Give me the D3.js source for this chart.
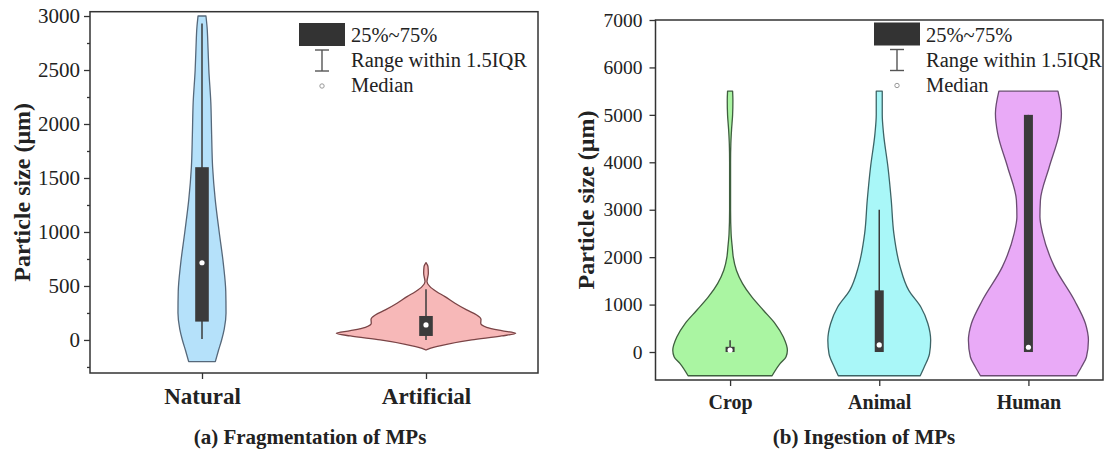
<!DOCTYPE html>
<html>
<head>
<meta charset="utf-8">
<script src="https://cdn.jsdelivr.net/npm/d3@7"></script>
<style>
  html, body { margin: 0; padding: 0; background: #fff; }
  svg { display: block; }
  text { font-family: "Liberation Serif", "Times New Roman", serif; fill: #222; }
</style>
</head>
<body>
<script>
// ---------- Panel (a): fragmentation ----------
const fragGroups = ["Natural", "Artificial"];
const fragTicks = [0, 500, 1000, 1500, 2000, 2500, 3000];
const fragMinorTicks = [-250, 250, 750, 1250, 1750, 2250, 2750];

// Kernel-density outlines: size levels (µm) and relative density at each level
const naturalLevels  = [3000, 2900, 2700, 2500, 2200, 1900, 1600, 1300, 1000, 700, 450, 250, 100, 0, -100, -200];
const naturalDensity = [0.044, 0.056, 0.067, 0.076, 0.098, 0.107, 0.118, 0.147, 0.191, 0.238, 0.264, 0.267, 0.247, 0.218, 0.182, 0.148];

const artificialLevels  = [716, 679, 617, 540, 494, 447, 401, 340, 278, 231, 191, 154, 117, 86, 62, 37, 0, -40, -77, -93];
const artificialDensity = [0, 0.022, 0.026, 0.011, 0.044, 0.119, 0.211, 0.322, 0.452, 0.563, 0.611, 0.608, 0.674, 0.841, 0.997, 0.841, 0.508, 0.23, 0.044, 0];

const fragQ1 = [170, 37];
const fragQ3 = [1600, 222];
const fragMedian = [715, 139];
const fragWhiskerLow = [10, 0];
const fragWhiskerHigh = [2930, 470];

// ---------- Panel (b): ingestion ----------
const ingGroups = ["Crop", "Animal", "Human"];
const ingTicks = [0, 1000, 2000, 3000, 4000, 5000, 6000, 7000];

const cropLevels  = [5500, 5300, 5000, 4700, 4400, 4000, 3000, 2500, 2200, 2000, 1724, 1443, 1161, 880, 600, 317, 36, -100, -245, -500];
const cropDensity = [0.042, 0.047, 0.042, 0.025, 0.013, 0.008, 0.008, 0.017, 0.037, 0.053, 0.105, 0.208, 0.362, 0.555, 0.75, 0.888, 0.955, 0.933, 0.833, 0.70];

const animalLevels  = [5500, 5000, 4600, 3900, 3200, 2500, 1800, 1300, 950, 600, 247, -34, -316, -500];
const animalDensity = [0.05, 0.05, 0.072, 0.145, 0.2, 0.243, 0.347, 0.492, 0.693, 0.81, 0.857, 0.838, 0.75, 0.683];

const humanLevels  = [5500, 5030, 4610, 3900, 3200, 2850, 2500, 1800, 1090, 600, 247, -105, -316, -500];
const humanDensity = [0.492, 0.55, 0.513, 0.347, 0.2, 0.192, 0.237, 0.433, 0.767, 0.95, 1.0, 0.967, 0.883, 0.8];

const ingQ1 = [0, 0, 0];
const ingQ3 = [110, 1300, 5000];
const ingMedian = [40, 150, 100];
const ingWhiskerLow = [0, 0, 0];
const ingWhiskerHigh = [250, 3000, 5000];

const legendLabels = ["25%~75%", "Range within 1.5IQR", "Median"];

// ---------- drawing ----------
const svg = d3.select("body").append("svg").attr("width", 1104).attr("height", 460);
const dark = "#3b3b3b";

function drawPanel(cfg) {
  const g = svg.append("g");
  const x = d3.scalePoint().domain(cfg.groups).range([cfg.left, cfg.right]).padding(0.5);
  const y = d3.scaleLinear().domain(cfg.yDomain).range([cfg.bottom, cfg.top]);
  const w = d3.scaleLinear().domain([0, 1]).range([0, cfg.maxHalf]);

  // violins
  cfg.groups.forEach((name, i) => {
    const pts = d3.zip(cfg.levels[i], cfg.density[i]);
    const cx = x(name);
    const area = d3.area()
      .y(d => y(d[0]))
      .x0(d => cx - w(d[1]))
      .x1(d => cx + w(d[1]))
      .curve(d3.curveMonotoneY);
    g.append("path").attr("d", area(pts))
      .attr("fill", cfg.fills[i]).attr("stroke", cfg.strokes[i])
      .attr("stroke-width", 1.3).attr("stroke-linejoin", "round");
  });

  // boxes
  cfg.groups.forEach((name, i) => {
    const cx = x(name);
    g.append("line").attr("x1", cx).attr("x2", cx)
      .attr("y1", y(cfg.wLow[i])).attr("y2", y(cfg.wHigh[i]))
      .attr("stroke", dark).attr("stroke-width", 1.5);
    g.append("rect").attr("x", cx - cfg.boxHalf).attr("width", cfg.boxHalf * 2)
      .attr("y", y(cfg.q3[i])).attr("height", y(cfg.q1[i]) - y(cfg.q3[i]))
      .attr("fill", dark);
    g.append("circle").attr("cx", cx).attr("cy", y(cfg.median[i])).attr("r", 2.6)
      .attr("fill", "#fff");
  });

  // frame
  g.append("rect").attr("x", cfg.left).attr("y", cfg.top)
    .attr("width", cfg.right - cfg.left).attr("height", cfg.bottom - cfg.top)
    .attr("fill", "none").attr("stroke", "#333").attr("stroke-width", 1.5);

  // axes
  const ya = g.append("g").attr("transform", `translate(${cfg.left},0)`)
    .call(d3.axisLeft(y).tickValues(cfg.ticks).tickSize(6).tickPadding(cfg.tickPad).tickFormat(d3.format("d")));
  ya.select(".domain").remove();
  ya.selectAll("line").attr("stroke", "#333").attr("stroke-width", 1.3);
  ya.selectAll("text").style("font-size", cfg.tickFont + "px").attr("fill", "#222")
    .style("font-family", '"Liberation Serif", "Times New Roman", serif');
  if (cfg.minor) {
    const ym = g.append("g").attr("transform", `translate(${cfg.left},0)`)
      .call(d3.axisLeft(y).tickValues(cfg.minor).tickSize(3).tickFormat(""));
    ym.select(".domain").remove();
    ym.selectAll("line").attr("stroke", "#333").attr("stroke-width", 1.3);
  }
  const xa = g.append("g").attr("transform", `translate(0,${cfg.bottom})`)
    .call(d3.axisBottom(x).tickSize(6).tickPadding(cfg.xPad));
  xa.select(".domain").remove();
  xa.selectAll("line").attr("stroke", "#333").attr("stroke-width", 1.3);
  xa.selectAll("text").style("font-size", cfg.xFont + "px").style("font-weight", "bold").attr("fill", "#111")
    .style("font-family", '"Liberation Serif", "Times New Roman", serif');

  // y title
  g.append("text")
    .attr("transform", `translate(${cfg.yTitleX},${(cfg.top + cfg.bottom) / 2}) rotate(-90)`)
    .attr("text-anchor", "middle").attr("dy", "0.35em")
    .style("font-size", "24px").style("font-weight", "bold").attr("fill", "#111")
    .text("Particle size (μm)");

  // caption
  g.append("text").attr("x", cfg.captionX).attr("y", 444).attr("text-anchor", "middle")
    .style("font-size", "21px").style("font-weight", "bold").attr("fill", "#111")
    .text(cfg.caption);

  // legend
  const L = cfg.legend;
  g.append("rect").attr("x", L.x).attr("y", L.y).attr("width", 46).attr("height", 23).attr("fill", "#333");
  const wx = L.x + 23;
  g.append("line").attr("x1", wx).attr("x2", wx).attr("y1", L.y + 27).attr("y2", L.y + 48).attr("stroke", "#555").attr("stroke-width", 1.4);
  g.append("line").attr("x1", wx - 7).attr("x2", wx + 7).attr("y1", L.y + 27).attr("y2", L.y + 27).attr("stroke", "#555").attr("stroke-width", 1.4);
  g.append("line").attr("x1", wx - 7).attr("x2", wx + 7).attr("y1", L.y + 48).attr("y2", L.y + 48).attr("stroke", "#555").attr("stroke-width", 1.4);
  g.append("circle").attr("cx", wx).attr("cy", L.y + 63).attr("r", 2.2).attr("fill", "#fff").attr("stroke", "#999").attr("stroke-width", 1);
  legendLabels.forEach((t, k) => {
    g.append("text").attr("x", L.x + 52).attr("y", L.y + 19 + k * 25)
      .style("font-size", "20.5px").attr("fill", "#222").text(t);
  });
}

drawPanel({
  groups: fragGroups, left: 90, right: 538, top: 11.7, bottom: 373,
  yDomain: [-306, 3040], ticks: fragTicks, minor: fragMinorTicks,
  levels: [naturalLevels, artificialLevels], density: [naturalDensity, artificialDensity],
  maxHalf: 90, boxHalf: 6.8,
  q1: fragQ1, q3: fragQ3, median: fragMedian, wLow: fragWhiskerLow, wHigh: fragWhiskerHigh,
  fills: ["#b5e1fa", "#f7b8b8"], strokes: ["#56687a", "#7a4446"],
  tickFont: 21, tickPad: 4, xFont: 23, xPad: 9, yTitleX: 22,
  caption: "(a) Fragmentation of MPs", captionX: 310,
  legend: { x: 299, y: 23 }
});

drawPanel({
  groups: ingGroups, left: 655.5, right: 1103, top: 20, bottom: 380,
  yDomain: [-590, 7000], ticks: ingTicks, minor: null,
  levels: [cropLevels, animalLevels, humanLevels], density: [cropDensity, animalDensity, humanDensity],
  maxHalf: 60, boxHalf: 4.5,
  q1: ingQ1, q3: ingQ3, median: ingMedian, wLow: ingWhiskerLow, wHigh: ingWhiskerHigh,
  fills: ["#aaf5a2", "#a9f7f8", "#e9aaf7"], strokes: ["#3f5f3f", "#3d6466", "#6a4c72"],
  tickFont: 19.5, tickPad: 7, xFont: 20, xPad: 9, yTitleX: 586,
  caption: "(b) Ingestion of MPs", captionX: 864,
  legend: { x: 874, y: 22.5 }
});
</script>
</body>
</html>
